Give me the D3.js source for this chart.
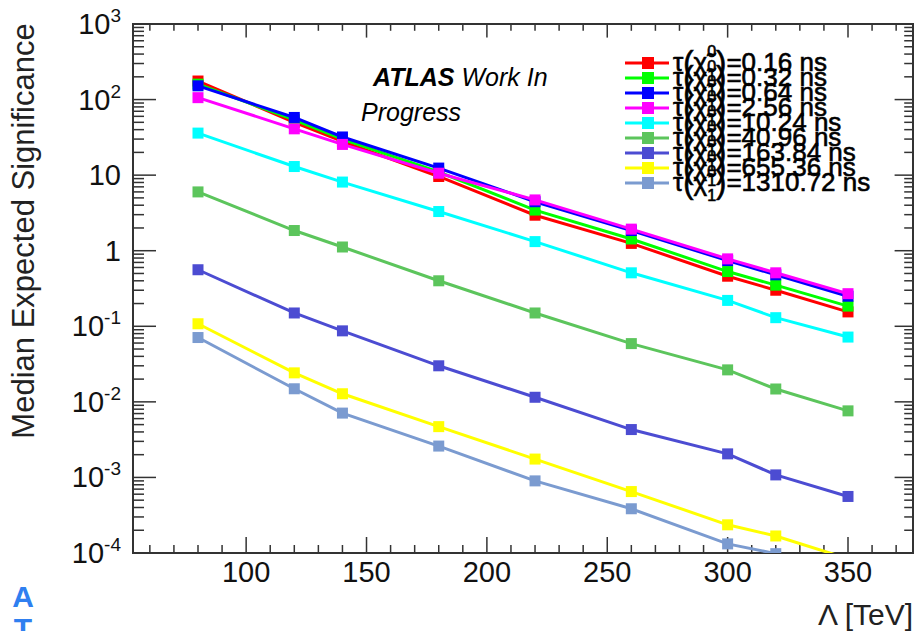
<!DOCTYPE html>
<html>
<head>
<meta charset="utf-8">
<script src="https://cdn.jsdelivr.net/npm/d3@7"></script>
<style>
  body { margin: 0; background: #fff; }
  svg { display: block; font-family: "Liberation Sans", Arial, sans-serif; }
</style>
</head>
<body>
<div></div>
<script>
// datos
var lambda = [80, 120, 140, 180, 220, 260, 300, 320, 350]

var sig_016 = [176, 50, 28, 9.6, 2.95, 1.25, 0.46, 0.30, 0.155]
var sig_032 = [160, 54, 30, 11, 3.45, 1.43, 0.53, 0.35, 0.185]
var sig_064 = [152, 58, 32, 12.4, 4.45, 1.85, 0.74, 0.48, 0.25]
var sig_256 = [106, 41, 25.5, 10.6, 4.7, 1.93, 0.78, 0.51, 0.27]
var sig_1024 = [36, 13, 8.1, 3.3, 1.32, 0.51, 0.22, 0.13, 0.072]
var sig_4096 = [6.0, 1.85, 1.12, 0.40, 0.15, 0.059, 0.0265, 0.0148, 0.0076]
var sig_16384 = [0.56, 0.150, 0.087, 0.030, 0.0115, 0.0043, 0.00205, 0.00108, 0.00056]
var sig_65536 = [0.108, 0.0242, 0.0128, 0.0047, 0.00175, 0.00065, 0.000236, 0.000168, 0.000084]
var sig_131072 = [0.071, 0.0149, 0.0071, 0.0026, 0.00090, 0.000385, 0.000132, 0.000098, 0.000045]

var tauLabels = ['0.16', '0.32', '0.64', '2.56', '10.24', '40.96', '163.84', '655.36', '1310.72']
var colors = ['#ff0000', '#00ff00', '#0000ff', '#ff00ff', '#00ffff', '#5cc55c', '#4c4cd2', '#ffff00', '#7b9bd0']
var allSeries = [sig_016, sig_032, sig_064, sig_256, sig_1024, sig_4096, sig_16384, sig_65536, sig_131072]

var xMajor = [100, 150, 200, 250, 300, 350]
var yMajor = [1e-4, 1e-3, 1e-2, 1e-1, 1, 10, 100, 1000]
var yBase = ['10', '10', '10', '10', '1', '10', '10', '10']
var yExp = ['-4', '-3', '-2', '-1', '', '', '2', '3']

var w = 919
var h = 631
// bordes del marco (ojo: "top" es reservado en window)
var fLeft = 133, fRight = 913, fTop = 24, fBottom = 553

var svg = d3.select('div')
    .append('svg')
    .attr('width', w)
    .attr('height', h)

var x = d3.scaleLinear().domain([53, 377]).range([fLeft, fRight])
var y = d3.scaleLog().domain([1e-4, 1e3]).range([fBottom, fTop])

svg.append('clipPath').attr('id', 'frame')
    .append('rect')
    .attr('x', fLeft).attr('y', fTop)
    .attr('width', fRight - fLeft).attr('height', fBottom - fTop)

// ticks del eje x (abajo y arriba)
var xMinor = d3.range(60, 377, 10).filter((v) => v % 50 != 0)
var axisColor = '#333'

function xTicks(vals, len) {
    svg.append('g').selectAll('line')
        .data(vals).enter().append('line')
        .attr('x1', (d) => x(d)).attr('x2', (d) => x(d))
        .attr('y1', fBottom).attr('y2', fBottom - len)
        .attr('stroke', axisColor).attr('stroke-width', 1.5)
    svg.append('g').selectAll('line')
        .data(vals).enter().append('line')
        .attr('x1', (d) => x(d)).attr('x2', (d) => x(d))
        .attr('y1', fTop).attr('y2', fTop + len * 0.85)
        .attr('stroke', axisColor).attr('stroke-width', 1.5)
}
xTicks(xMajor, 16)
xTicks(xMinor, 8)

// ticks del eje y (log)
var yMinor = []
for (var e = -4; e < 3; e++) {
    for (var k = 2; k <= 9; k++) yMinor.push(k * Math.pow(10, e))
}

function yTicks(vals, len) {
    svg.append('g').selectAll('line')
        .data(vals).enter().append('line')
        .attr('x1', fLeft).attr('x2', fLeft + len)
        .attr('y1', (d) => y(d)).attr('y2', (d) => y(d))
        .attr('stroke', axisColor).attr('stroke-width', 1.5)
    svg.append('g').selectAll('line')
        .data(vals).enter().append('line')
        .attr('x1', fRight).attr('x2', fRight - len * 0.8)
        .attr('y1', (d) => y(d)).attr('y2', (d) => y(d))
        .attr('stroke', axisColor).attr('stroke-width', 1.5)
}
yTicks(yMajor, 23)
yTicks(yMinor, 11)

// marco
svg.append('rect')
    .attr('x', fLeft).attr('y', fTop)
    .attr('width', fRight - fLeft).attr('height', fBottom - fTop)
    .attr('fill', 'none')
    .attr('stroke', axisColor)
    .attr('stroke-width', 2)

// etiquetas x
svg.append('g').selectAll('text')
    .data(xMajor).enter().append('text')
    .attr('x', (d) => x(d))
    .attr('y', 582)
    .attr('text-anchor', 'middle')
    .attr('font-size', 29)
    .attr('fill', '#111')
    .text((d) => d)

// etiquetas y con exponente
var ylab = svg.append('g').selectAll('text')
    .data(yMajor).enter().append('text')
    .attr('x', 121)
    .attr('y', (d) => y(d) + 10)
    .attr('text-anchor', 'end')
    .attr('font-size', 29)
    .attr('fill', '#111')
ylab.append('tspan').text((d, i) => yBase[i])
ylab.append('tspan')
    .attr('font-size', 19)
    .attr('dy', -12)
    .text((d, i) => yExp[i])

// titulos de ejes
svg.append('text')
    .attr('transform', 'translate(34,231) rotate(-90)')
    .attr('text-anchor', 'middle')
    .attr('font-size', 31)
    .attr('fill', '#222')
    .text('Median Expected Significance')

svg.append('text')
    .attr('x', 913)
    .attr('y', 625)
    .attr('text-anchor', 'end')
    .attr('font-size', 30)
    .attr('fill', '#222')
    .text('\u039b [TeV]')

// series
var line = d3.line()
    .x((d) => x(d[0]))
    .y((d) => y(d[1]))

var plot = svg.append('g').attr('clip-path', 'url(#frame)')

allSeries.forEach(function(vals, i) {
    var pts = lambda.map((l, j) => [l, vals[j]])
    plot.append('path')
        .attr('d', line(pts))
        .attr('fill', 'none')
        .attr('stroke', colors[i])
        .attr('stroke-width', 3)
    plot.selectAll('rect.m' + i)
        .data(pts).enter().append('rect')
        .attr('class', 'm' + i)
        .attr('x', (d) => x(d[0]) - 5.5)
        .attr('y', (d) => y(d[1]) - 5.5)
        .attr('width', 11).attr('height', 11)
        .attr('fill', colors[i])
})

// texto ATLAS
var atlas = svg.append('text')
    .attr('x', 373)
    .attr('y', 86)
    .attr('font-size', 25)
    .attr('font-style', 'italic')
    .attr('fill', '#000')
atlas.append('tspan').attr('font-weight', 'bold').text('ATLAS')
atlas.append('tspan').text(' Work In')
svg.append('text')
    .attr('x', 361)
    .attr('y', 121)
    .attr('font-size', 25)
    .attr('font-style', 'italic')
    .attr('fill', '#000')
    .text('Progress')

// leyenda
var legend = svg.append('g')
allSeries.forEach(function(vals, i) {
    var cy = 63 + i * 15
    legend.append('line')
        .attr('x1', 625).attr('x2', 669)
        .attr('y1', cy).attr('y2', cy)
        .attr('stroke', colors[i]).attr('stroke-width', 3)
    legend.append('rect')
        .attr('x', 642).attr('y', cy - 6)
        .attr('width', 12).attr('height', 12)
        .attr('fill', colors[i])
    var t = legend.append('text')
        .attr('x', 673)
        .attr('y', cy + 8)
        .attr('font-size', 26)
        .attr('fill', '#000')
        .attr('stroke', '#000')
        .attr('stroke-width', 0.6)
    t.append('tspan').text('\u03c4')
    t.append('tspan').attr('font-size', 31).attr('dy', 2).text('(')
    t.append('tspan').attr('font-size', 26).attr('dy', -2).text('\u03c7\u0303')
    t.append('tspan').attr('font-size', 16).attr('dy', -14).text('0')
    t.append('tspan').attr('font-size', 16).attr('dx', -9).attr('dy', 24).text('1')
    t.append('tspan').attr('font-size', 31).attr('dy', -8).text(')')
    t.append('tspan').attr('font-size', 26).attr('dy', -2).text('=' + tauLabels[i] + ' ns')
})

// marca azul abajo a la izquierda
svg.append('text')
    .attr('x', 23).attr('y', 607)
    .attr('text-anchor', 'middle')
    .attr('font-size', 30).attr('font-weight', 'bold')
    .attr('fill', '#2f7ff0')
    .text('A')
svg.append('text')
    .attr('x', 23).attr('y', 639)
    .attr('text-anchor', 'middle')
    .attr('font-size', 30).attr('font-weight', 'bold')
    .attr('fill', '#2f7ff0')
    .text('T')
</script>
</body>
</html>
